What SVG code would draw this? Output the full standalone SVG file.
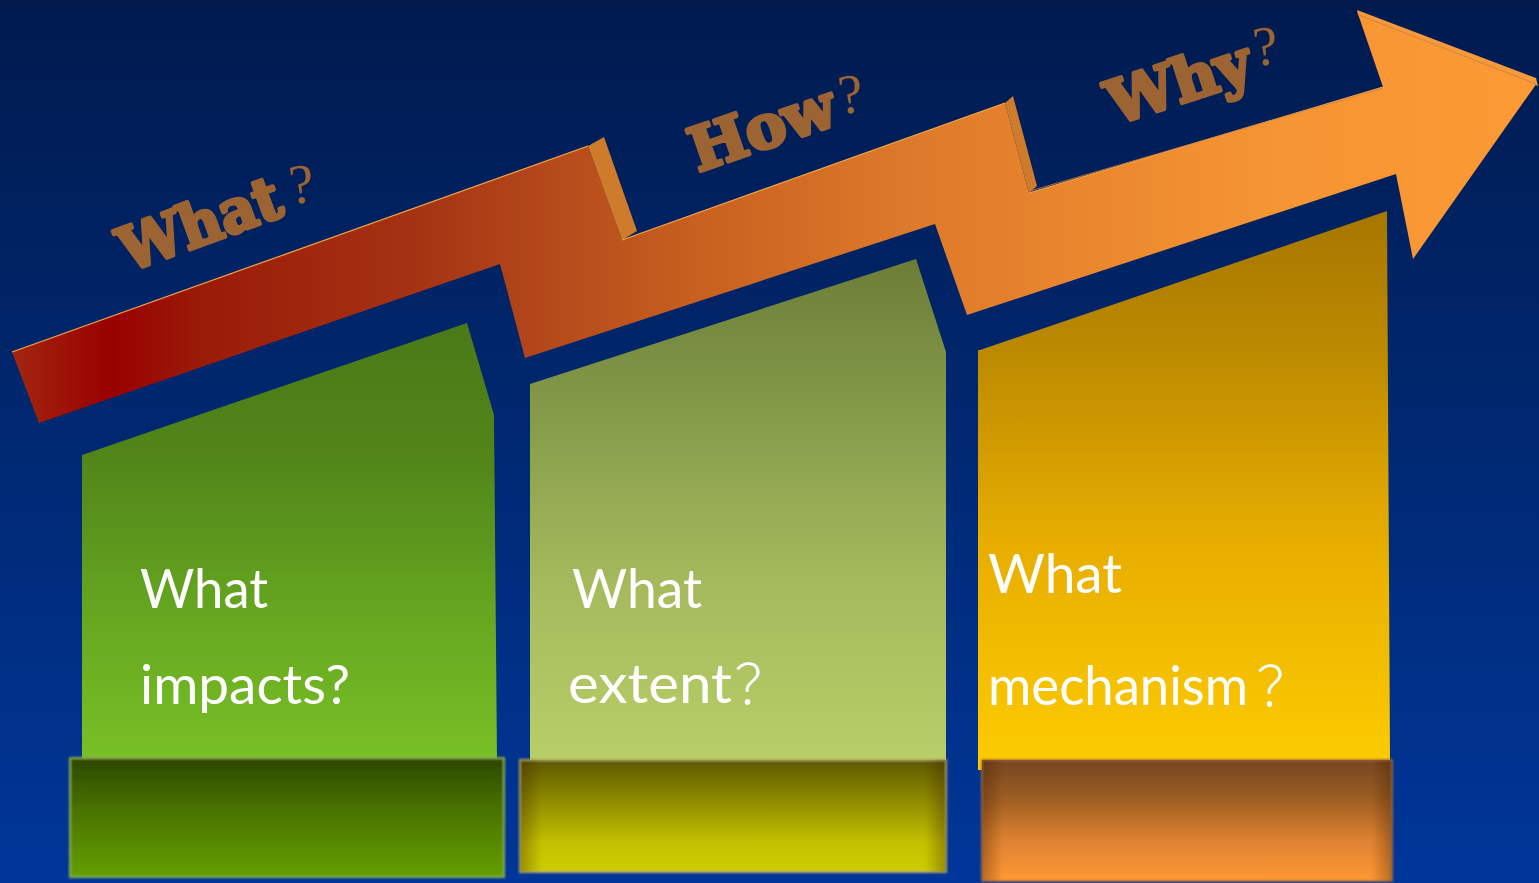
<svg xmlns="http://www.w3.org/2000/svg" width="1539" height="883" viewBox="0 0 1539 883">
  <defs>
    <linearGradient id="bg" x1="0" y1="0" x2="0" y2="883" gradientUnits="userSpaceOnUse">
      <stop offset="0" stop-color="#001a4e"/>
      <stop offset="0.45" stop-color="#00276e"/>
      <stop offset="1" stop-color="#00369a"/>
    </linearGradient>
    <linearGradient id="arrowFill" x1="12" y1="0" x2="1537" y2="0" gradientUnits="userSpaceOnUse">
      <stop offset="0" stop-color="#a3260f"/>
      <stop offset="0.065" stop-color="#990000"/>
      <stop offset="0.12" stop-color="#9a1a08"/>
      <stop offset="0.26" stop-color="#a43212"/>
      <stop offset="0.34" stop-color="#b2461a"/>
      <stop offset="0.45" stop-color="#c8601f"/>
      <stop offset="0.58" stop-color="#dc782a"/>
      <stop offset="0.7" stop-color="#e9862e"/>
      <stop offset="0.82" stop-color="#f59433"/>
      <stop offset="1" stop-color="#fc9a34"/>
    </linearGradient>
    <linearGradient id="p1" x1="0" y1="323" x2="0" y2="760" gradientUnits="userSpaceOnUse">
      <stop offset="0" stop-color="#4a7a18"/>
      <stop offset="0.3" stop-color="#518519"/>
      <stop offset="0.65" stop-color="#65a520"/>
      <stop offset="1" stop-color="#78c026"/>
    </linearGradient>
    <linearGradient id="p2" x1="0" y1="259" x2="0" y2="760" gradientUnits="userSpaceOnUse">
      <stop offset="0" stop-color="#6d7d38"/>
      <stop offset="0.25" stop-color="#809546"/>
      <stop offset="0.65" stop-color="#a5ba5c"/>
      <stop offset="1" stop-color="#b8ce68"/>
    </linearGradient>
    <linearGradient id="p3" x1="0" y1="211" x2="0" y2="770" gradientUnits="userSpaceOnUse">
      <stop offset="0" stop-color="#a67600"/>
      <stop offset="0.25" stop-color="#bc8a00"/>
      <stop offset="0.6" stop-color="#e8ae00"/>
      <stop offset="1" stop-color="#fdcc00"/>
    </linearGradient>
    <linearGradient id="b1" x1="0" y1="0" x2="0" y2="1">
      <stop offset="0" stop-color="#2c4800"/>
      <stop offset="0.45" stop-color="#4a7400"/>
      <stop offset="1" stop-color="#64a000"/>
    </linearGradient>
    <linearGradient id="b2" x1="0" y1="0" x2="0" y2="1">
      <stop offset="0" stop-color="#5e5800"/>
      <stop offset="0.45" stop-color="#9a9800"/>
      <stop offset="0.75" stop-color="#c4c200"/>
      <stop offset="1" stop-color="#cccc00"/>
    </linearGradient>
    <linearGradient id="b3" x1="0" y1="0" x2="0" y2="1">
      <stop offset="0" stop-color="#774620"/>
      <stop offset="0.3" stop-color="#9a5c22"/>
      <stop offset="0.65" stop-color="#dc8030"/>
      <stop offset="1" stop-color="#ff9933"/>
    </linearGradient>
    <linearGradient id="sideShade" x1="0" y1="0" x2="1" y2="0">
      <stop offset="0" stop-color="#3a1a00" stop-opacity="0.35"/>
      <stop offset="0.05" stop-color="#3a1a00" stop-opacity="0"/>
      <stop offset="0.95" stop-color="#3a1a00" stop-opacity="0"/>
      <stop offset="1" stop-color="#3a1a00" stop-opacity="0.35"/>
    </linearGradient>
    <filter id="soft" x="-5%" y="-5%" width="110%" height="110%">
      <feGaussianBlur stdDeviation="0.9"/>
    </filter>
    <style>
      .bevel { fill: #cf7b2c; }
      .hl { fill: none; stroke: #f6a748; stroke-width: 1.2; }
      .edge { fill: none; stroke: #c9803c; stroke-width: 1; stroke-opacity: 0.8; }
      .label { font-family: "DejaVu Serif", "Liberation Serif", serif; font-weight: bold; font-size: 60px; fill: #9b6432; stroke: #9b6432; stroke-width: 4; stroke-linejoin: round; }
      .qmark { font-family: "Liberation Serif", serif; font-size: 56px; fill: #9b6432; }
      .body { font-family: Lato, "Noto Sans", sans-serif; font-size: 55px; fill: #ffffff; }
      .fwq { font-family: "Noto Sans CJK SC", sans-serif; font-size: 55px; font-weight: 300; fill: #ffffff; text-anchor: middle; }
    </style>
  </defs>

  <!-- background -->
  <rect width="1539" height="883" fill="url(#bg)"/>

  <!-- panel columns -->
  <g id="panel-impacts">
    <polygon points="82,455 467,323 494,415 497,760 82,760" fill="url(#p1)"/>
    <g filter="url(#soft)">
      <rect x="70" y="758" width="434" height="119" fill="url(#b1)" stroke="#86a84a" stroke-width="2"/>
    </g>
    <text class="body" x="140" y="608" textLength="128" lengthAdjust="spacingAndGlyphs">What</text>
    <text class="body" x="140" y="704" textLength="210" lengthAdjust="spacingAndGlyphs">impacts?</text>
  </g>

  <g id="panel-extent">
    <polygon points="530,384 916,259 946,352 946,760 530,760" fill="url(#p2)"/>
    <g filter="url(#soft)">
      <rect x="520" y="760" width="426" height="112" fill="url(#b2)" stroke="#b4ac58" stroke-width="2"/>
      <rect x="520" y="760" width="426" height="112" fill="url(#sideShade)"/>
    </g>
    <text class="body" x="572" y="608" textLength="130" lengthAdjust="spacingAndGlyphs">What</text>
    <text class="body" x="568" y="703" textLength="164" lengthAdjust="spacingAndGlyphs">extent</text>
    <text class="fwq" x="762" y="704">？</text>
  </g>

  <g id="panel-mechanism">
    <polygon points="980,350 1387,211 1390,760 982,760 982,770 978,770 978,350" fill="url(#p3)"/>
    <g filter="url(#soft)">
      <rect x="982" y="760" width="410" height="121" fill="url(#b3)" stroke="#c07a38" stroke-width="1.5"/>
      <rect x="982" y="760" width="410" height="121" fill="url(#sideShade)"/>
    </g>
    <text class="body" x="988" y="593" textLength="134" lengthAdjust="spacingAndGlyphs">What</text>
    <text class="body" x="988" y="705" textLength="260" lengthAdjust="spacingAndGlyphs">mechanism</text>
    <text class="fwq" x="1284" y="706">？</text>
  </g>

  <!-- stepped rising arrow -->
  <g id="arrow">
    <polygon points="12,352 588,146 622,240 1005,103 1029,193 1383,87 1358,14 1537,83 1413,259 1396,174 967,315 935,224 525,358 500,264 39,423" fill="url(#arrowFill)"/>
    <polygon class="bevel" points="588,146 604,137 637,231 622,240"/>
    <polygon class="bevel" points="1005,103 1013,96 1037,186 1029,193" fill="#d38030"/>
    <polygon points="1357,10 1536,78 1538,86 1358,15" fill="#f59a3a"/>
    <polyline class="hl" points="12,352 588,146"/>
    <polyline class="hl" points="622,240 1005,103"/>
    <polyline class="hl" points="1029,193 1383,87"/>
    <polyline class="edge" points="1030,191 1383,88"/>
    <polyline class="edge" points="1359,15 1536,84"/>
  </g>

  <!-- question labels along the arrow -->
  <g id="label-what">
    <text class="label" transform="translate(128,272) rotate(-20)" textLength="168" lengthAdjust="spacingAndGlyphs">What</text>
    <text class="qmark" transform="translate(291,204) rotate(-6)">?</text>
  </g>
  <g id="label-how">
    <text class="label" transform="translate(698,172) rotate(-19)" textLength="150" lengthAdjust="spacingAndGlyphs">How</text>
    <text class="qmark" transform="translate(840,114) rotate(-6)">?</text>
  </g>
  <g id="label-why">
    <text class="label" transform="translate(1115,125) rotate(-18)" textLength="148" lengthAdjust="spacingAndGlyphs">Why</text>
    <text class="qmark" transform="translate(1255,66) rotate(-6)">?</text>
  </g>
</svg>
